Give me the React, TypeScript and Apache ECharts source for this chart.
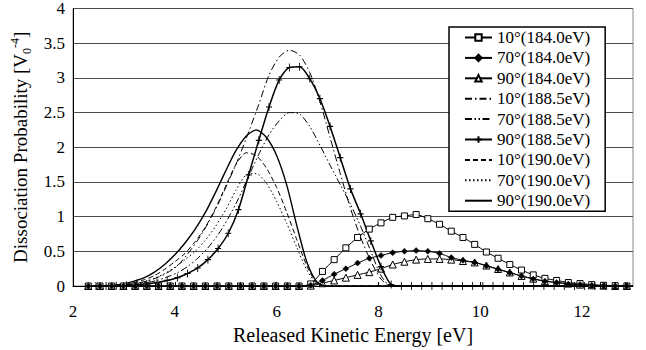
import React, { useEffect, useRef } from "react";
import * as echarts from "echarts";

// Released kinetic energy grids [eV]
const energy184 = [
  2.30, 2.53, 2.76, 2.99, 3.22, 3.45, 3.68, 3.91, 4.14, 4.37, 4.60, 4.83, 5.06, 5.29, 5.52, 5.75,
  5.98, 6.21, 6.44, 6.67, 6.90, 7.13, 7.36, 7.59, 7.82, 8.05, 8.28, 8.51, 8.74, 8.97, 9.20, 9.43,
  9.66, 9.89, 10.12, 10.35, 10.58, 10.81, 11.04, 11.27, 11.50, 11.73, 11.96, 12.19, 12.42, 12.65, 12.88,
];
const energy188 = [
  2.45, 2.65, 2.85, 3.05, 3.25, 3.45, 3.65, 3.85, 4.05, 4.25, 4.45, 4.65, 4.85, 5.05, 5.25, 5.45,
  5.65, 5.85, 6.05, 6.25, 6.45, 6.65, 6.85, 7.05, 7.25, 7.45, 7.65, 7.85, 8.05, 8.25, 8.45, 8.65,
  8.85, 9.05, 9.25, 9.45, 9.65, 9.85, 10.05, 10.25, 10.45, 10.65, 10.85, 11.05, 11.25, 11.45, 11.65,
  11.85, 12.05, 12.25, 12.45, 12.65, 12.85,
];
const energy190 = [
  2.4, 2.6, 2.8, 3.0, 3.2, 3.4, 3.6, 3.8, 4.0, 4.2, 4.4, 4.6, 4.8, 5.0, 5.2, 5.4, 5.6, 5.8, 6.0,
  6.2, 6.4, 6.6, 6.8, 7.0, 13.0,
];

// Dissociation probability [V0^-4], photon energy 184.0 eV
const prob10at184 = [
  0, 0, 0, 0, 0, 0, 0, 0, 0, 0, 0, 0, 0, 0, 0, 0, 0, 0, 0,
  0.03, 0.21, 0.38, 0.55, 0.70, 0.82, 0.91, 0.99, 1.01, 1.03, 0.97, 0.89, 0.79, 0.70, 0.60, 0.49,
  0.40, 0.31, 0.23, 0.16, 0.11, 0.08, 0.05, 0.035, 0.02, 0.01, 0.005, 0,
];
const prob70at184 = [
  0, 0, 0, 0, 0, 0, 0, 0, 0, 0, 0, 0, 0, 0, 0, 0, 0, 0, 0,
  0.01, 0.08, 0.17, 0.25, 0.33, 0.40, 0.44, 0.48, 0.50, 0.51, 0.50, 0.47, 0.41, 0.37, 0.34, 0.29,
  0.24, 0.19, 0.145, 0.10, 0.07, 0.05, 0.03, 0.02, 0.01, 0.005, 0, 0,
];
const prob90at184 = [
  0, 0, 0, 0, 0, 0, 0, 0, 0, 0, 0, 0, 0, 0, 0, 0, 0, 0, 0,
  0.005, 0.04, 0.08, 0.12, 0.16, 0.20, 0.25, 0.31, 0.35, 0.38, 0.39, 0.39, 0.38, 0.36, 0.34, 0.295,
  0.245, 0.195, 0.145, 0.105, 0.07, 0.05, 0.035, 0.02, 0.01, 0.005, 0, 0,
];

// Photon energy 188.5 eV
const prob10at188 = [
  0, 0.005, 0.01, 0.02, 0.04, 0.07, 0.12, 0.19, 0.29, 0.46, 0.66, 0.90, 1.18, 1.50, 1.84, 2.22,
  2.62, 3.04, 3.30, 3.40, 3.33, 3.08, 2.66, 2.14, 1.62, 1.12, 0.70, 0.36, 0.10, 0,
  0, 0, 0, 0, 0, 0, 0, 0, 0, 0, 0, 0, 0, 0, 0, 0, 0, 0, 0, 0, 0, 0, 0,
];
const prob70at188 = [
  0, 0.003, 0.007, 0.015, 0.03, 0.05, 0.08, 0.13, 0.19, 0.28, 0.40, 0.55, 0.74, 0.98, 1.26, 1.58,
  1.90, 2.18, 2.38, 2.50, 2.48, 2.30, 2.03, 1.74, 1.46, 1.18, 0.86, 0.50, 0.15, 0,
  0, 0, 0, 0, 0, 0, 0, 0, 0, 0, 0, 0, 0, 0, 0, 0, 0, 0, 0, 0, 0, 0, 0,
];
const prob90at188 = [
  0, 0, 0.005, 0.01, 0.02, 0.03, 0.05, 0.08, 0.12, 0.18, 0.26, 0.38, 0.54, 0.76, 1.10, 1.60,
  2.10, 2.58, 2.97, 3.15, 3.16, 2.99, 2.70, 2.30, 1.85, 1.40, 1.04, 0.65, 0.28, 0.02,
  0, 0, 0, 0, 0, 0, 0, 0, 0, 0, 0, 0, 0, 0, 0, 0, 0, 0, 0, 0, 0, 0, 0,
];

// Photon energy 190.0 eV
const prob10at190 = [
  0, 0.005, 0.01, 0.02, 0.05, 0.09, 0.15, 0.24, 0.35, 0.47, 0.64, 0.85, 1.12, 1.44, 1.75, 1.92,
  1.88, 1.70, 1.42, 1.06, 0.66, 0.28, 0.03, 0, 0,
];
const prob70at190 = [
  0, 0.003, 0.008, 0.015, 0.03, 0.06, 0.11, 0.18, 0.27, 0.38, 0.50, 0.66, 0.86, 1.10, 1.38, 1.60,
  1.62, 1.48, 1.22, 0.90, 0.55, 0.22, 0.02, 0, 0,
];
const prob90at190 = [
  0, 0.005, 0.015, 0.03, 0.07, 0.12, 0.20, 0.31, 0.45, 0.62, 0.82, 1.06, 1.35, 1.66, 1.95, 2.16,
  2.25, 2.14, 1.88, 1.45, 0.86, 0.33, 0.05, 0, 0,
];

const xTicks = { min: 2, max: 13, interval: 2 };
const yTicks = { min: 0, max: 4, interval: 0.5 };

const FONT = "Liberation Serif";
const BLACK = "#000";

const pair = (xs: number[], ys: number[]) => xs.map((x, i) => [x, ys[i]]);

const plusSymbol = "path://M5,0L5,10M0,5L10,5";

function lineSeries(name: string, xs: number[], ys: number[], extra: any) {
  return {
    name,
    type: "line",
    data: pair(xs, ys),
    smooth: 0.25,
    symbol: "none",
    showSymbol: false,
    lineStyle: { color: BLACK, width: 1, type: "solid" },
    itemStyle: { color: BLACK },
    ...extra,
  };
}

const series: any[] = [
  lineSeries("10°(184.0eV)", energy184, prob10at184, {
    symbol: "rect",
    symbolSize: 6,
    showSymbol: true,
    z: 3,
    itemStyle: { color: "#fff", borderColor: BLACK, borderWidth: 1 },
  }),
  lineSeries("70°(184.0eV)", energy184, prob70at184, {
    symbol: "diamond",
    symbolSize: 6,
    showSymbol: true,
    z: 4,
    itemStyle: { color: BLACK, borderColor: BLACK, borderWidth: 0.5 },
  }),
  lineSeries("90°(184.0eV)", energy184, prob90at184, {
    symbol: "triangle",
    symbolSize: 7,
    showSymbol: true,
    z: 2,
    itemStyle: { color: "#fff", borderColor: BLACK, borderWidth: 1 },
  }),
  lineSeries("10°(188.5eV)", energy188, prob10at188, {
    lineStyle: { color: BLACK, width: 1, type: [7, 3, 1.5, 3] },
  }),
  lineSeries("70°(188.5eV)", energy188, prob70at188, {
    lineStyle: { color: BLACK, width: 1, type: [7, 2.5, 1.5, 2.5, 1.5, 2.5] },
  }),
  lineSeries("90°(188.5eV)", energy188, prob90at188, {
    symbol: plusSymbol,
    symbolSize: [6, 8],
    showSymbol: true,
    lineStyle: { color: BLACK, width: 1.5, type: "solid" },
    itemStyle: { color: "none", borderColor: BLACK, borderWidth: 1 },
  }),
  lineSeries("10°(190.0eV)", energy190, prob10at190, {
    lineStyle: { color: BLACK, width: 1, type: [5, 3] },
  }),
  lineSeries("70°(190.0eV)", energy190, prob70at190, {
    lineStyle: { color: BLACK, width: 1, type: [1.5, 2.5] },
  }),
  lineSeries("90°(190.0eV)", energy190, prob90at190, {
    lineStyle: { color: BLACK, width: 1.4, type: "solid" },
  }),
];

// Plain lines get a hidden legend marker, so only their stroke pattern shows.
const legendItems = series.map((s) =>
  s.showSymbol
    ? { name: s.name }
    : { name: s.name, itemStyle: { color: "rgba(0,0,0,0)", borderColor: "rgba(0,0,0,0)", borderWidth: 0 } }
);

const option: any = {
  animation: false,
  backgroundColor: "#fff",
  textStyle: { fontFamily: FONT, color: BLACK },
  grid: {
    left: 73,
    right: 13,
    top: 6,
    bottom: 64,
    show: true,
    borderColor: "#888",
    borderWidth: 1,
  },
  legend: {
    orient: "vertical",
    left: 449,
    top: 27,
    itemWidth: 27,
    itemHeight: 8,
    itemGap: 3.4,
    padding: [2, 15, 2, 15],
    borderColor: BLACK,
    borderWidth: 1.5,
    borderRadius: 0,
    backgroundColor: "#fff",
    textStyle: { fontFamily: FONT, fontSize: 17, color: BLACK, lineHeight: 17 },
    data: legendItems,
  },
  xAxis: {
    type: "value",
    ...xTicks,
    name: "Released Kinetic Energy [eV]",
    nameLocation: "middle",
    nameGap: 31,
    nameTextStyle: { fontFamily: FONT, fontSize: 20, color: BLACK },
    axisLine: { show: true, lineStyle: { color: BLACK, width: 1 } },
    axisTick: { show: true, inside: true, length: 4, lineStyle: { color: BLACK } },
    axisLabel: {
      fontFamily: FONT,
      fontSize: 17,
      color: BLACK,
      margin: 17,
      showMaxLabel: false,
    },
    splitLine: { show: false },
  },
  yAxis: {
    type: "value",
    ...yTicks,
    name: "Dissociation Probability [V{sub|0}{sup|-4}]",
    nameLocation: "middle",
    nameRotate: 90,
    nameGap: 40,
    nameTextStyle: {
      fontFamily: FONT,
      fontSize: 19,
      color: BLACK,
      lineHeight: 24,
      rich: {
        sub: { fontFamily: FONT, fontSize: 12, lineHeight: 12, verticalAlign: "bottom", color: BLACK },
        sup: { fontFamily: FONT, fontSize: 12, lineHeight: 12, verticalAlign: "top", color: BLACK },
      },
    },
    axisLine: { show: true, lineStyle: { color: BLACK, width: 1 } },
    axisTick: { show: false },
    axisLabel: { fontFamily: FONT, fontSize: 17, color: BLACK, margin: 8 },
    splitLine: { show: true, lineStyle: { color: "#4d4d4d", width: 1 } },
  },
  series,
};

export default function App() {
  const ref = useRef<HTMLDivElement>(null);
  useEffect(() => {
    document.body.style.margin = "0";
    const chart = echarts.init(ref.current!, null, { renderer: "svg" });
    chart.setOption(option);
    return () => chart.dispose();
  }, []);
  return (
    <div
      ref={ref}
      style={{ position: "absolute", left: 0, top: 0, width: 646, height: 350, background: "#fff" }}
    />
  );
}
